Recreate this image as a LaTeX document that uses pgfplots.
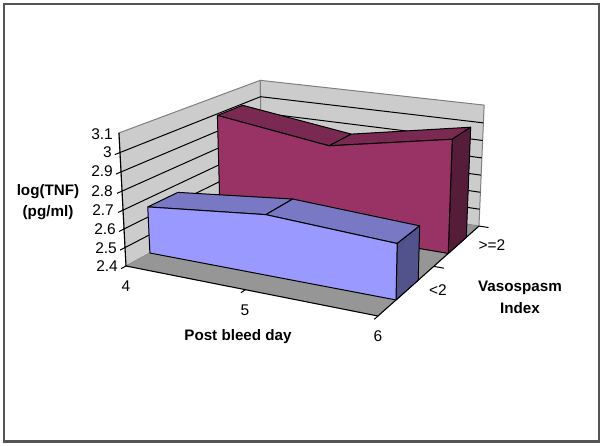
\documentclass[border=0pt]{standalone}
\usepackage{pgfplots}
\pgfplotsset{compat=1.18}
\usepackage{fontspec}
\setmainfont{Liberation Sans}
\definecolor{wall}{HTML}{CCCCCC}
\definecolor{walledge}{HTML}{808080}
\definecolor{floorc}{HTML}{969696}
\definecolor{frontA}{HTML}{9999FF}
\definecolor{topA}{HTML}{7878C4}
\definecolor{sideA}{HTML}{52528C}
\definecolor{frontB}{HTML}{993366}
\definecolor{topB}{HTML}{7A2952}
\definecolor{sideB}{HTML}{561D3A}
\definecolor{framec}{HTML}{555555}
% every table row is: day, depth position across the floor (0 front, 1 back), log(TNF)
\pgfkeys{/pgfplots/table/.cd,
  pj/.style={row sep=\\,
    x expr={PX(\thisrow{day},\thisrow{depth},\thisrow{val})},
    y expr={PY(\thisrow{day},\thisrow{depth},\thisrow{val})}}}
\newcommand{\ticklab}[3]{\node[anchor=east,inner sep=0pt] at (axis cs:#1,#2) {\fontsize{15.5}{17}\selectfont #3};}
\newcommand{\clab}[3]{\node[inner sep=0pt] at (axis cs:#1,#2) {\fontsize{15.5}{17}\selectfont #3};}
\newcommand{\blab}[3]{\node[inner sep=0pt,font=\bfseries] at (axis cs:#1,#2) {\fontsize{15.2}{17}\selectfont #3};}
\begin{document}
\begin{tikzpicture}
\begin{axis}[
  scale only axis, width=603pt, height=446pt,
  xmin=0, xmax=603, ymin=0, ymax=446, y dir=reverse,
  hide axis, clip=false,
  declare function={
    UU(\d)=(\d-4)/2;
    WW(\z)=(\z-2.4)/0.7;
    DD(\u,\v,\w)=1-0.0994*\u+0.2076*\v-0.035*\w;
    PX(\d,\v,\z)=(126+214.4*UU(\d)+190.4*\v-11.2*WW(\z))/DD(UU(\d),\v,WW(\z));
    PY(\d,\v,\z)=(266+18.6*UU(\d)-34.1*\v-137.7*WW(\z))/DD(UU(\d),\v,WW(\z));
  },
  every axis plot/.append style={line join=round, no markers},
]
% page and frame
\path[fill=white] (axis cs:0,0) rectangle (axis cs:603,446);
\draw[framec, line width=2.4pt] (axis cs:4,4) rectangle (axis cs:599,441.5);
% walls
\addplot[fill=wall, draw=walledge, line width=1pt] table[pj] {day depth val\\ 4 0 2.4\\ 4 0 3.1\\ 4 1 3.1\\ 4 1 2.4\\ 4 0 2.4\\};
\addplot[fill=wall, draw=walledge, line width=1pt] table[pj] {day depth val\\ 4 1 2.4\\ 4 1 3.1\\ 6 1 3.1\\ 6 1 2.4\\ 4 1 2.4\\};
% floor
\addplot[fill=floorc, draw=none] table[pj] {day depth val\\ 4 0 2.4\\ 6 0 2.4\\ 6 1 2.4\\ 4 1 2.4\\ 4 0 2.4\\};
% gridlines with their ticks
\pgfplotsinvokeforeach{2.5,2.6,2.7,2.8,2.9,3.0}{
  \addplot[black, line width=1pt] table[pj] {day depth val\\ 4 -0.03 #1\\ 4 1 #1\\ 6 1 #1\\};
}
% axis lines
\addplot[black, line width=1.1pt] table[pj] {day depth val\\ 4 0 3.1\\ 4 0 2.4\\ 6 0 2.4\\ 6 1 2.4\\};
\addplot[black, line width=1pt] table[pj] {day depth val\\ 4 -0.03 2.4\\ 4 0 2.4\\};
\addplot[black, line width=1pt] table[pj] {day depth val\\ 5 0 2.4\\ 5 -0.03 2.4\\};
\addplot[black, line width=1pt] table[pj] {day depth val\\ 6 0 2.4\\ 6 -0.03 2.4\\};
\addplot[black, line width=1pt] table[pj] {day depth val\\ 6.08 0.5 2.4\\ 6 0.5 2.4\\};
\addplot[black, line width=1pt] table[pj] {day depth val\\ 6.08 1 2.4\\ 6 1 2.4\\};
% series >=2
\addplot[fill=topB, draw=black, line width=1pt] table[pj] {day depth val\\ 4 0.65 2.991\\ 5 0.65 2.901\\ 5 0.85 2.901\\ 4 0.85 2.991\\ 4 0.65 2.991\\};
\addplot[fill=topB, draw=black, line width=1pt] table[pj] {day depth val\\ 5 0.65 2.901\\ 6 0.65 3.023\\ 6 0.85 3.023\\ 5 0.85 2.901\\ 5 0.65 2.901\\};
\addplot[fill=sideB, draw=black, line width=1pt] table[pj] {day depth val\\ 6 0.65 3.023\\ 6 0.85 3.023\\ 6 0.85 2.4\\ 6 0.65 2.4\\ 6 0.65 3.023\\};
\addplot[fill=frontB, draw=black, line width=1pt] table[pj] {day depth val\\ 4 0.65 2.4\\ 4 0.65 2.991\\ 5 0.65 2.901\\ 6 0.65 3.023\\ 6 0.65 2.4\\ 4 0.65 2.4\\};
% series <2
\addplot[fill=topA, draw=black, line width=1pt] table[pj] {day depth val\\ 4 0.15 2.655\\ 5 0.15 2.72\\ 5 0.35 2.72\\ 4 0.35 2.655\\ 4 0.15 2.655\\};
\addplot[fill=topA, draw=black, line width=1pt] table[pj] {day depth val\\ 5 0.15 2.72\\ 6 0.15 2.685\\ 6 0.35 2.685\\ 5 0.35 2.72\\ 5 0.15 2.72\\};
\addplot[fill=sideA, draw=black, line width=1pt] table[pj] {day depth val\\ 6 0.15 2.685\\ 6 0.35 2.685\\ 6 0.35 2.4\\ 6 0.15 2.4\\ 6 0.15 2.685\\};
\addplot[fill=frontA, draw=black, line width=1pt] table[pj] {day depth val\\ 4 0.15 2.4\\ 4 0.15 2.655\\ 5 0.15 2.72\\ 6 0.15 2.685\\ 6 0.15 2.4\\ 4 0.15 2.4\\};
% labels
\ticklab{113}{134}{3.1}
\ticklab{112}{152}{3}
\ticklab{113}{171}{2.9}
\ticklab{113}{191}{2.8}
\ticklab{114}{210}{2.7}
\ticklab{116}{229}{2.6}
\ticklab{117}{248}{2.5}
\ticklab{118}{266}{2.4}
\clab{126}{286}{4}
\clab{245}{310}{5}
\clab{378}{336}{6}
\clab{492}{245}{>=2}
\clab{438}{290}{<2}
\blab{48}{192}{log(TNF)}
\blab{48}{213}{(pg/ml)}
\blab{238}{337}{Post bleed day}
\blab{520}{288}{Vasospasm}
\blab{520}{308}{Index}
\end{axis}
\end{tikzpicture}
\end{document}
